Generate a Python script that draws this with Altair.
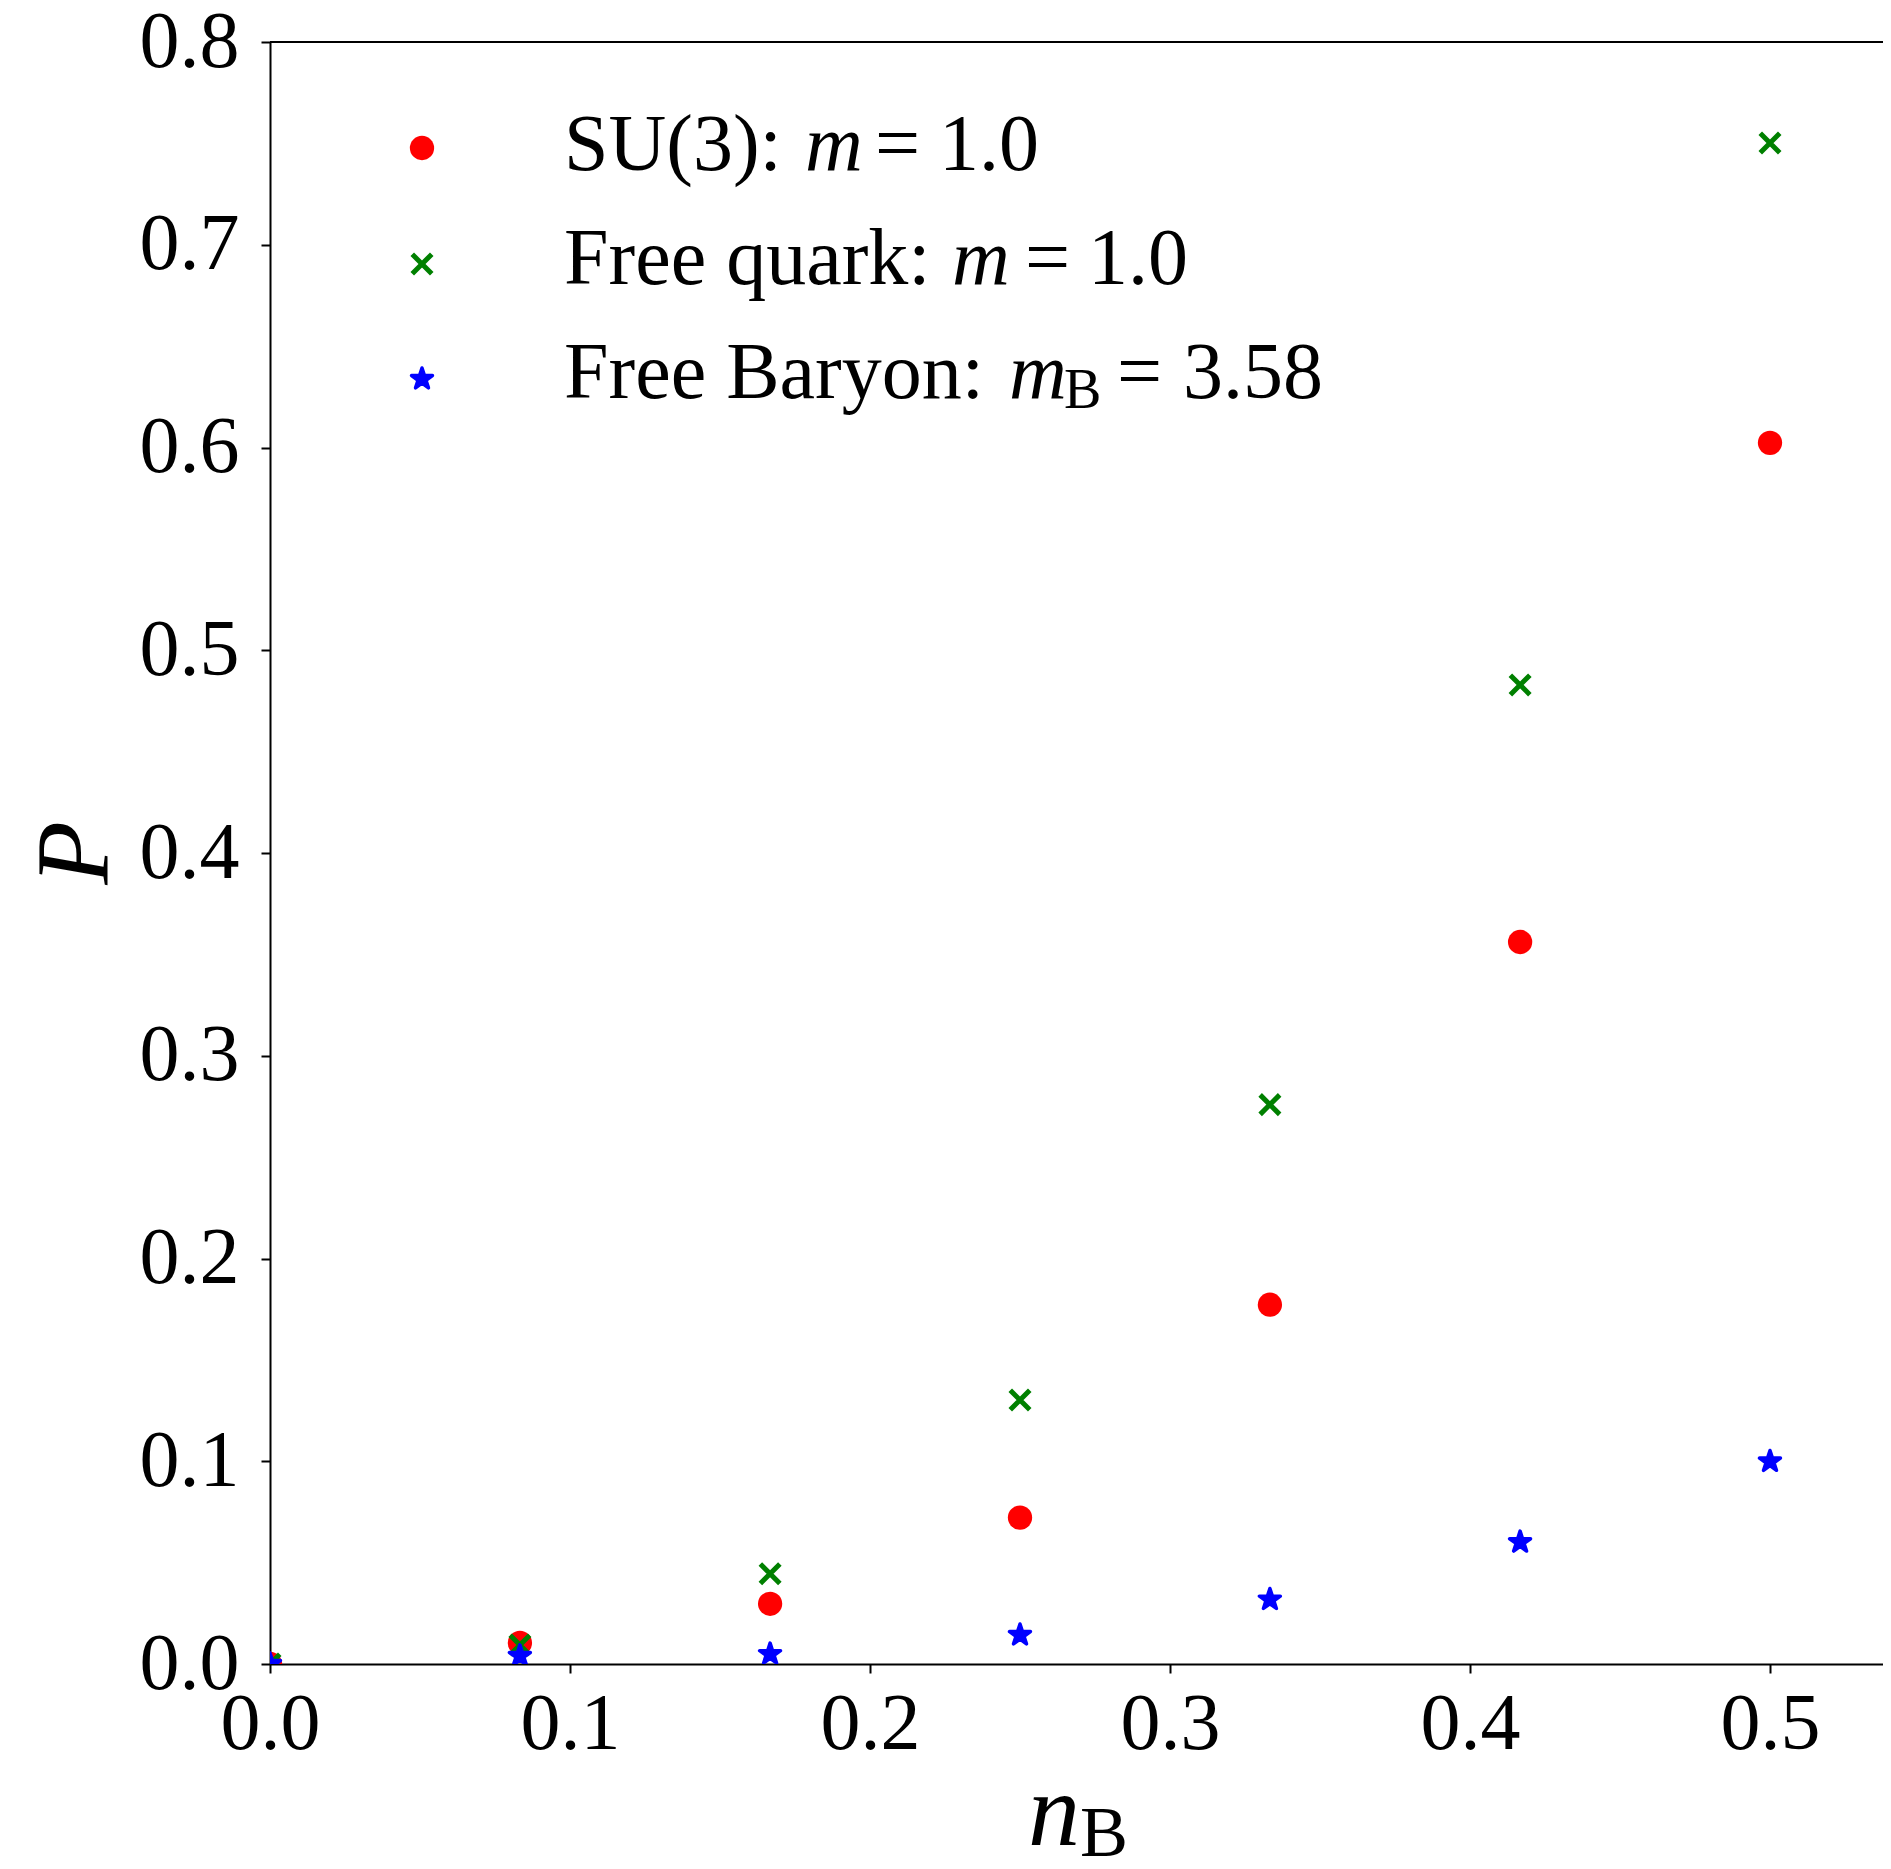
import altair as alt
import pandas as pd

# ---------------- data ----------------
nB = [0.0, 0.0833, 0.1667, 0.25, 0.3333, 0.4167, 0.5]
su3 = [0.0, 0.0104, 0.0297, 0.0722, 0.1772, 0.3561, 0.6023]
free_quark = [0.0, 0.0094, 0.0445, 0.1302, 0.2759, 0.4829, 0.7502]
free_baryon = [0.0, 0.0040, 0.0049, 0.0143, 0.0318, 0.0601, 0.0999]

x_ticks = [0.0, 0.1, 0.2, 0.3, 0.4, 0.5]
y_ticks = [0.0, 0.1, 0.2, 0.3, 0.4, 0.5, 0.6, 0.7, 0.8]

legend_prefix = ["SU(3):", "Free quark:", "Free Baryon:"]
legend_var = ["m", "m", "m"]
legend_sub = ["", "", "B"]
legend_value = ["1.0", "1.0", "3.58"]
x_title_main, x_title_sub = "n", "B"
y_title = "P"

colors = ["#ff0000", "#008000", "#0000ff"]

# ---------------- layout ----------------
FONT = "Liberation Serif"
PLOT_W = 1613
PLOT_H = 1622
XMAX = PLOT_W / 3000.0

X_PATH = "M-1,-1L1,1M-1,1L1,-1"
STAR_PATH = ("M0,-1L0.2245,-0.309L0.9511,-0.309L0.3633,0.118L0.5878,0.809"
             "L0,0.382L-0.5878,0.809L-0.3633,0.118L-0.9511,-0.309L-0.2245,-0.309Z")

CIRCLE_MARK = dict(shape="circle", filled=True, color=colors[0], size=590)
X_MARK = dict(shape=X_PATH, filled=False, color=colors[1], size=380, strokeWidth=5)
STAR_MARK = dict(shape=STAR_PATH, filled=True, color=colors[2], size=484,
                 stroke=colors[2], strokeWidth=3.5, strokeJoin="round")

x_scale = alt.Scale(domain=[0, XMAX], nice=False, zero=False)
y_scale = alt.Scale(domain=[0, 0.8], nice=False, zero=False)

common_axis = dict(title=None, format=".1f", labelFont=FONT, labelFontSize=80,
                   labelColor="black", tickSize=9, tickWidth=2, tickColor="black",
                   domainColor="black", domainWidth=2, grid=False,
                   labelFlush=False, labelOverlap=False)
x_axis = alt.Axis(values=x_ticks, labelPadding=12, **common_axis)
y_axis = alt.Axis(values=y_ticks, labelPadding=22, **common_axis)

df = pd.DataFrame({"nB": nB, "su3": su3, "fq": free_quark, "fb": free_baryon})


def series(field, mark):
    return alt.Chart(df).mark_point(opacity=1, clip=True, **mark).encode(
        x=alt.X("nB:Q", scale=x_scale, axis=x_axis),
        y=alt.Y(f"{field}:Q", scale=y_scale, axis=y_axis),
    )


red = series("su3", CIRCLE_MARK)
green = series("fq", X_MARK)
blue = series("fb", STAR_MARK)

dummy = pd.DataFrame({"k": [0]})

top_spine = alt.Chart(dummy).mark_rule(color="black", strokeWidth=2).encode(
    x=alt.value(0), x2=alt.value(PLOT_W), y=alt.value(0)
)


def txt(s, x, y, size=80, style="normal", align="left", angle=0):
    return alt.Chart(pd.DataFrame({"t": [s]})).mark_text(
        font=FONT, fontSize=size, fontStyle=style, align=align,
        baseline="alphabetic", color="black", angle=angle,
    ).encode(x=alt.value(x), y=alt.value(y), text="t:N")


def sym(x, y, mark):
    return alt.Chart(dummy).mark_point(opacity=1, **mark).encode(
        x=alt.value(x), y=alt.value(y)
    )


layers = [red, green, blue, top_spine]

# legend
sym_y = [106, 222, 337]
base_y = [128, 242, 356]
var_x = [535, 682, 739]
eq_x = [605, 755, 847]
val_x = [669, 818, 913]
layers.append(sym(152, sym_y[0], CIRCLE_MARK))
layers.append(sym(152, sym_y[1], X_MARK))
layers.append(sym(152, sym_y[2], STAR_MARK))
for i in range(3):
    layers.append(txt(legend_prefix[i], 294, base_y[i]))
    layers.append(txt(legend_var[i], var_x[i], base_y[i], style="italic"))
    if legend_sub[i]:
        layers.append(txt(legend_sub[i], 794, base_y[i] + 10, size=56))
    layers.append(txt("=", eq_x[i], base_y[i]))
    layers.append(txt(legend_value[i], val_x[i], base_y[i]))

# axis titles
layers.append(txt(x_title_main, 758, 1803, size=104, style="italic"))
layers.append(txt(x_title_sub, 810, 1814, size=72))
layers.append(txt(y_title, -162, 811, size=104, style="italic", align="center", angle=270))

chart = alt.layer(*layers).properties(
    width=PLOT_W,
    height=PLOT_H,
    autosize=alt.AutoSizeParams(type="none"),
    padding={"left": 262, "top": 34, "right": 0, "bottom": 192},
    background="white",
).configure_view(stroke=None)

chart.save("out.html", embed_options={"renderer": "svg", "actions": False})
